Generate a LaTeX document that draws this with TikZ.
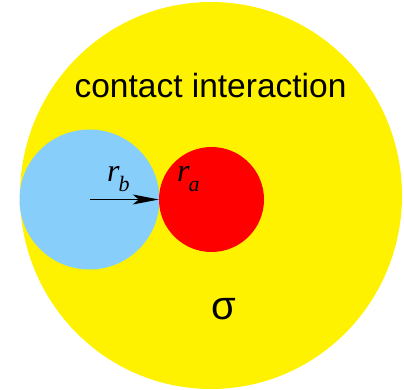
\documentclass[tikz,border=0pt]{standalone}
\usepackage{fontspec}
\setmainfont{Liberation Sans}
\newfontfamily\serifit{Liberation Serif}
\usetikzlibrary{arrows.meta}
\definecolor{skyblue}{RGB}{135,206,250}
\tikzset{ball/.style={circle, inner sep=0pt},
  radius label/.style={font=\serifit\itshape\fontsize{32}{36}\selectfont, inner sep=0pt, anchor=base west}}
\newcommand{\radlab}[2]{#1\kern-1pt\raisebox{-10pt}{\fontsize{22}{26}\selectfont #2}}
\begin{document}
\begin{tikzpicture}[x=1pt,y=-1pt]
  \useasboundingbox (0,0) rectangle (404,390);
  \fill[yellow] (211,195.5) ellipse [x radius=191, y radius=193.5];
  \node[ball, fill=skyblue, minimum size=140pt] (b) at (89.5,199.5) {};
  \node[ball, fill=red, minimum size=105pt] (a) at (211.5,199.5) {};
  \draw[line width=1.4pt, -{Stealth[length=26pt, width=10pt, inset=6pt]}] (b.center) -- (a.west);
  \node[radius label] (rb) at (107,182) {\radlab{r}{b}};
  \node[radius label] (ra) at (177,182) {\radlab{r}{a}};
  \node (ci) at (210.5,86) {\fontsize{33.5}{40}\selectfont contact interaction};
  \node (sig) at (224,309) {\fontsize{40}{48}\selectfont σ};
\end{tikzpicture}
\end{document}
